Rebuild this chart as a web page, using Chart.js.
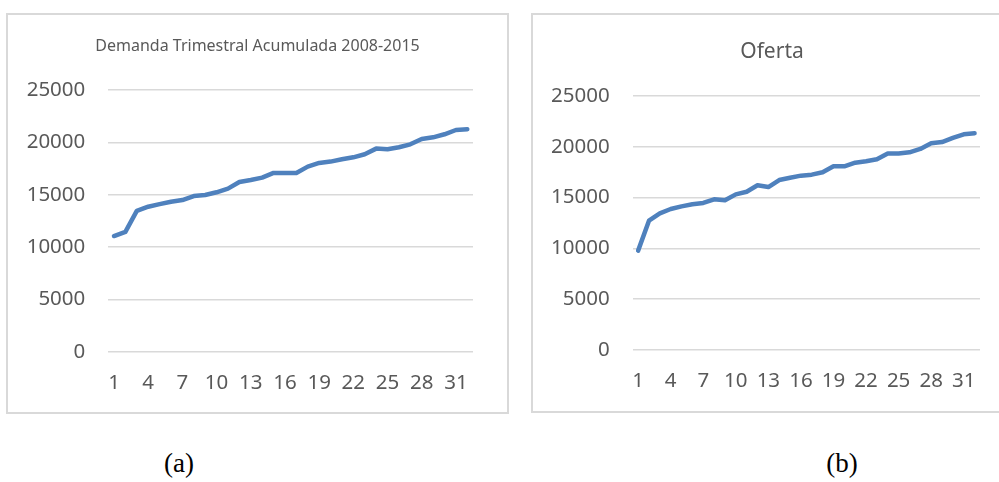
<!DOCTYPE html>
<html>
<head>
<meta charset="utf-8">
<script src="https://cdn.jsdelivr.net/npm/chart.js@4"></script>
<style>
  html, body { margin: 0; padding: 0; background: #fff; overflow: hidden; }
  body { width: 999px; height: 482px; position: relative; }
  .panel { position: absolute; box-sizing: border-box; border: 2px solid #d9d9d9; }
  canvas { position: absolute; }
  .cap { position: absolute; font-family: "Liberation Serif", serif; font-size: 27px; color: #000; transform: translateX(-50%); }
</style>
</head>
<body>
<div class="panel" style="left:6px; top:13px; width:503px; height:401px;"></div>
<div class="panel" style="left:531px; top:13px; width:490px; height:400px;"></div>
<canvas id="demandaChart" width="499" height="397" style="left:8px; top:15px;"></canvas>
<canvas id="ofertaChart" width="478" height="396" style="left:533px; top:15px;"></canvas>
<div class="cap" style="left:179px; top:448px;">(a)</div>
<div class="cap" style="left:842px; top:448px;">(b)</div>
<script>
// quarters 1..32
const quarters = ["1", "2", "3", "4", "5", "6", "7", "8", "9", "10", "11", "12", "13", "14", "15", "16",
  "17", "18", "19", "20", "21", "22", "23", "24", "25", "26", "27", "28", "29", "30", "31", "32"];

const demanda = [11050, 11450, 13450, 13850, 14100, 14330, 14490, 14870, 14970, 15230, 15580, 16210,
  16400, 16630, 17080, 17080, 17080, 17680, 18030, 18160, 18380, 18570, 18860, 19400,
  19340, 19530, 19810, 20320, 20480, 20770, 21180, 21250];

const oferta = [9780, 12730, 13450, 13880, 14140, 14340, 14470, 14830, 14730, 15320, 15580, 16210,
  16040, 16730, 16960, 17160, 17260, 17490, 18080, 18080, 18440, 18570, 18770, 19330,
  19330, 19460, 19790, 20340, 20470, 20870, 21230, 21330];

const yTicks = [0, 5000, 10000, 15000, 20000, 25000];

const tickColor = "#595959";
const tickFont = { family: "'Noto Sans', sans-serif", size: 20.5 };

function makeChart(id, values, title, opts) {
  const ctx = document.getElementById(id).getContext("2d");
  return new Chart(ctx, {
    type: "line",
    data: {
      labels: quarters,
      datasets: [{
        data: values,
        borderColor: "#4f81bd",
        borderWidth: 4.5,
        borderCapStyle: "round",
        borderJoinStyle: "round",
        pointRadius: 0,
        tension: 0,
        fill: false,
      }],
    },
    options: {
      responsive: false,
      animation: false,
      layout: { padding: 0 },
      plugins: {
        legend: { display: false },
        tooltip: { enabled: false },
        title: {
          display: true,
          text: title,
          color: tickColor,
          font: { family: "'Noto Sans', sans-serif", size: opts.titleSize, weight: "normal" },
          padding: { top: opts.titleTop, bottom: opts.titleBottom },
        },
      },
      scales: {
        x: {
          offset: true,
          grid: { display: false, drawTicks: false },
          border: { display: false },
          ticks: {
            color: tickColor,
            font: tickFont,
            padding: 19,
            autoSkip: false,
            maxRotation: 0,
            callback: (v, i) => (i % 3 === 0 ? quarters[i] : ""),
          },
          afterFit: (s) => { s.height = opts.xHeight; },
        },
        y: {
          min: yTicks[0],
          max: yTicks[yTicks.length - 1],
          afterBuildTicks: (s) => { s.ticks = yTicks.map((v) => ({ value: v })); },
          grid: { color: "#d9d9d9", lineWidth: 1.5, drawTicks: false },
          border: { display: false },
          ticks: { color: tickColor, font: tickFont, padding: 23, callback: (v) => String(v) },
          afterFit: (s) => { s.width = opts.yWidth; },
        },
        // empty right axis, only keeps the right margin so the title stays centred
        yRight: {
          position: "right",
          grid: { display: false, drawTicks: false },
          border: { display: false },
          ticks: { display: false },
          afterFit: (s) => { s.width = opts.right; },
        },
      },
    },
  });
}

makeChart("demandaChart", demanda, "Demanda Trimestral Acumulada 2008-2015",
  { right: 34, titleSize: 16, titleTop: 21.4, titleBottom: 34.4, xHeight: 60.3, yWidth: 100.3 });
makeChart("ofertaChart", oferta, "Oferta",
  { right: 31, titleSize: 21, titleTop: 24.4, titleBottom: 31.4, xHeight: 61, yWidth: 99.7 });
</script>
</body>
</html>
